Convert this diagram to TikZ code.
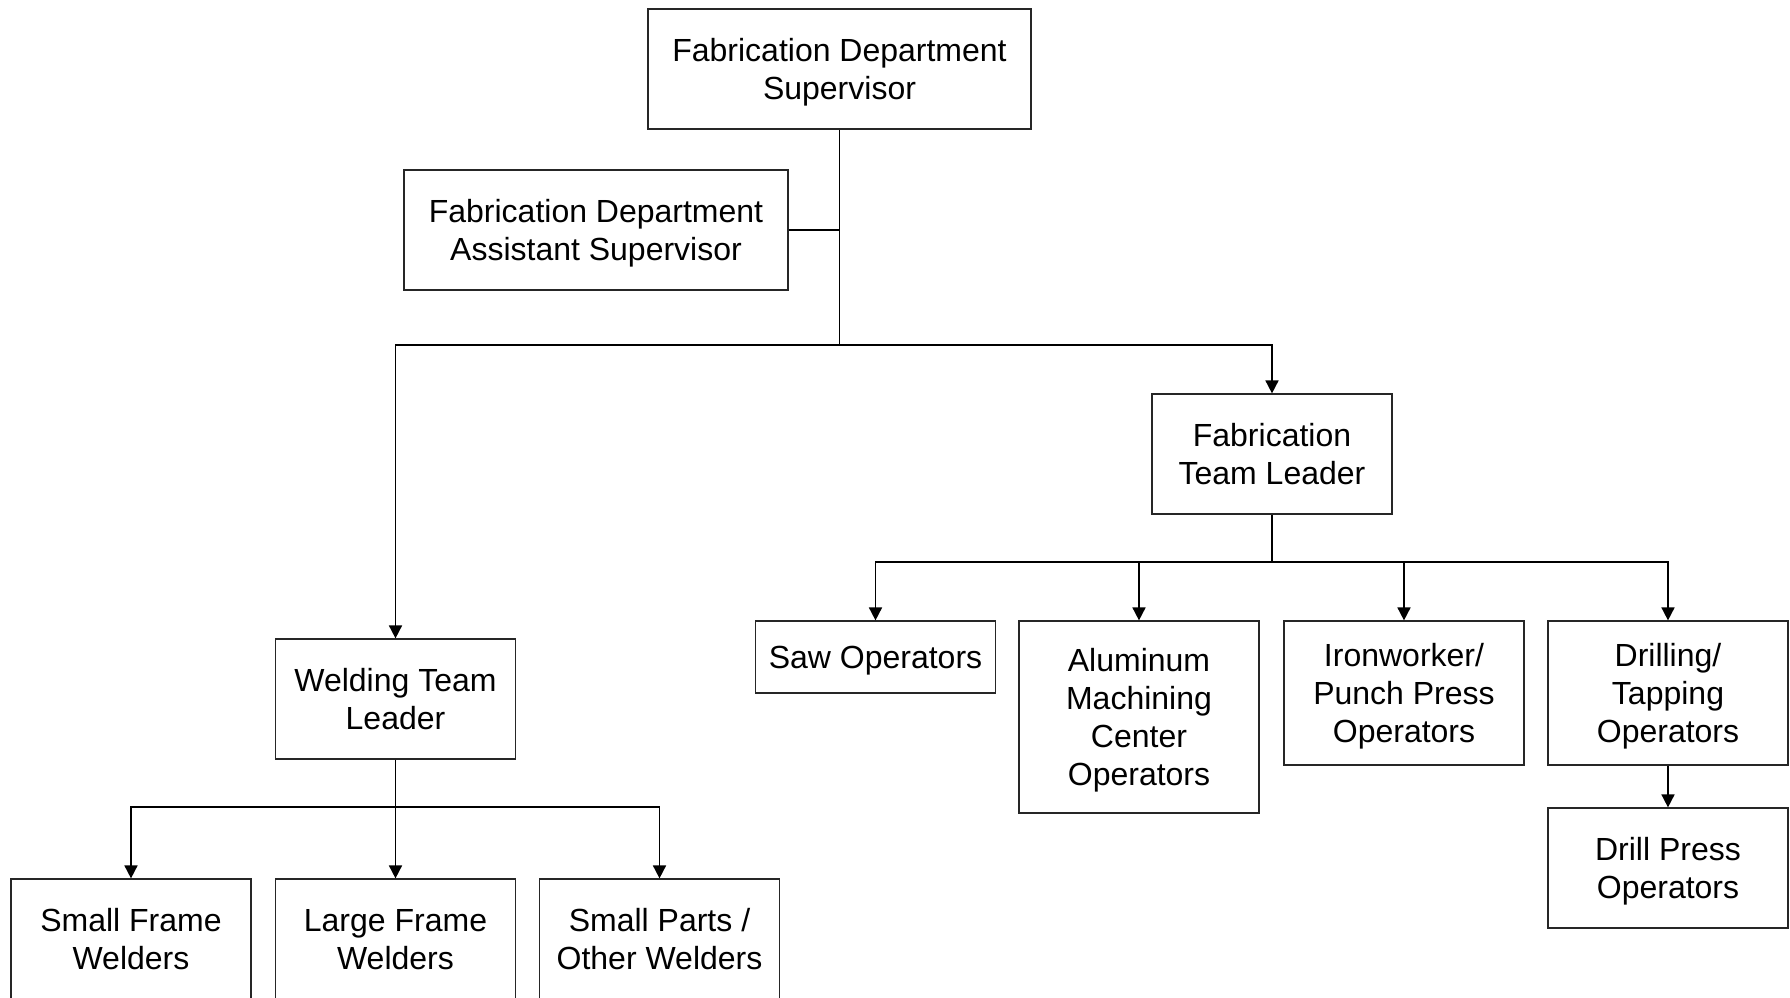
\documentclass[tikz,border=0pt]{standalone}
\usepackage{fontspec}
\setmainfont{Liberation Sans}
\usetikzlibrary{arrows.meta}
\begin{document}
\begin{tikzpicture}[x=0.5pt,y=-0.5pt,
  box/.style={draw=black!85, line width=0.6pt, align=center, inner sep=0pt,
    font=\fontsize{16}{19}\selectfont, text=black, text depth=0pt,
    minimum width=120pt},
  link/.style={draw=black, line width=0.85pt},
  arrow/.style={link, -{Triangle[length=6.5pt,width=6.5pt]}}]
\useasboundingbox (0,0) rectangle (1790,997);

% managers
\node[box, minimum width=191.5pt, minimum height=60pt] (sup) at (839.5,69) {Fabrication Department\\Supervisor};
\node[box, minimum width=192pt, minimum height=60pt] (asst) at (596,230) {Fabrication Department\\Assistant Supervisor};
\node[box, minimum height=60pt] (ftl) at (1272,454) {Fabrication\\Team Leader};
\node[box, minimum height=60pt] (wtl) at (395.5,699) {Welding Team\\Leader};

% fabrication crews
\node[box, minimum height=36pt] (saw) at (875.5,657) {Saw Operators};
\node[box, minimum height=96pt] (alu) at (1139,717) {Aluminum\\Machining\\Center\\Operators};
\node[box, minimum height=72pt] (iron) at (1404,693) {Ironworker/\\Punch Press\\Operators};
\node[box, minimum height=72pt] (drill) at (1668,693) {Drilling/\\Tapping\\Operators};
\node[box, minimum height=60pt] (dpress) at (1668,868) {Drill Press\\Operators};

% welding crews
\node[box, minimum height=60pt] (sfw) at (131,939) {Small Frame\\Welders};
\node[box, minimum height=60pt] (lfw) at (395.5,939) {Large Frame\\Welders};
\node[box, minimum height=60pt] (spw) at (659.5,939) {Small Parts /\\Other Welders};

% junctions
\coordinate (j1) at (839.5,345);
\coordinate (j2) at (1272,562);
\coordinate (j3) at (395.5,807);

% connectors
\draw[link] (sup.south) -- (j1);
\draw[link] (asst.east) -- (asst.east -| sup.south);
\draw[arrow] (j1) -| (wtl.north);
\draw[arrow] (j1) -| (ftl.north);

\draw[link] (ftl.south) -- (j2);
\draw[arrow] (j2) -| (saw.north);
\draw[arrow] (j2) -| (alu.north);
\draw[arrow] (j2) -| (iron.north);
\draw[arrow] (j2) -| (drill.north);
\draw[arrow] (drill.south) -- (dpress.north);

\draw[link] (wtl.south) -- (j3);
\draw[arrow] (j3) -| (sfw.north);
\draw[arrow] (j3) -- (lfw.north);
\draw[arrow] (j3) -| (spw.north);
\end{tikzpicture}
\end{document}
